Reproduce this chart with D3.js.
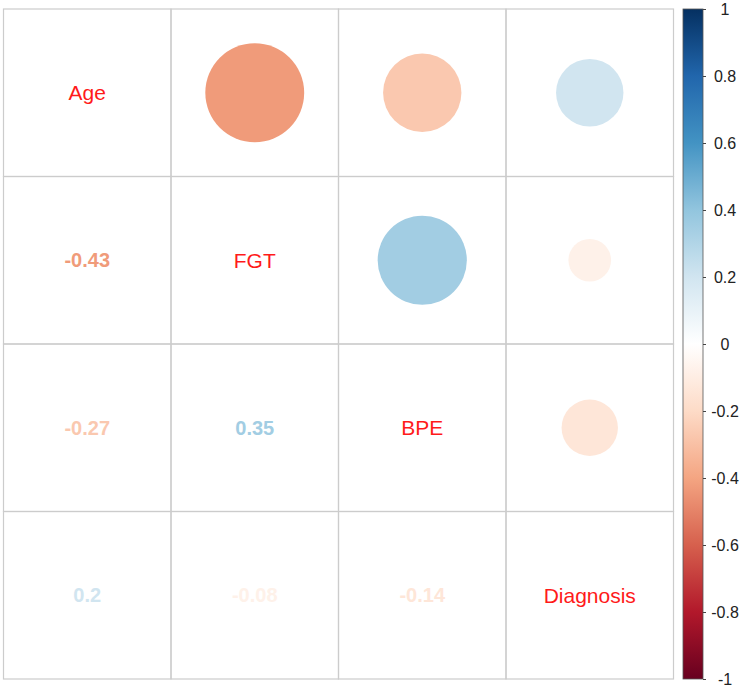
<!DOCTYPE html>
<html>
<head>
<meta charset="utf-8">
<script src="https://cdn.jsdelivr.net/npm/d3@7"></script>
<style>
  body { margin: 0; background: #fff; }
  svg { display: block; font-family: "Liberation Sans", Arial, sans-serif; }
</style>
</head>
<body>
<svg id="canvas"></svg>
<script>
// variables and their correlation matrix
let vars = ['Age', 'FGT', 'BPE', 'Diagnosis']
let corrAge = [1, -0.43, -0.27, 0.2]
let corrFGT = [-0.43, 1, 0.35, -0.08]
let corrBPE = [-0.27, 0.35, 1, -0.14]
let corrDiagnosis = [0.2, -0.08, -0.14, 1]
let corr = [corrAge, corrFGT, corrBPE, corrDiagnosis]

let legendTicks = [-1, -0.8, -0.6, -0.4, -0.2, 0, 0.2, 0.4, 0.6, 0.8, 1]
let paletteStops = ['#67001F', '#B2182B', '#D6604D', '#F4A582', '#FDDBC7', '#FFFFFF',
                    '#D1E5F0', '#92C5DE', '#4393C3', '#2166AC', '#053061']

let width = 745
let height = 689
let gridLeft = 3.5
let gridTop = 9
let gridSize = 670

let canvas = d3.select('#canvas')
canvas.attr('width', width).attr('height', height)

let xScale = d3.scaleBand().domain(vars).range([gridLeft, gridLeft + gridSize])
let yScale = d3.scaleBand().domain(vars).range([gridTop, gridTop + gridSize])
let color = d3.scaleLinear().domain(legendTicks).range(paletteStops)

// flatten matrix into cells
let cells = []
corr.forEach((row, i) => {
    row.forEach((v, j) => {
        cells.push({ row: vars[i], col: vars[j], i: i, j: j, value: v })
    })
})

let cellSize = xScale.bandwidth()

// grid
canvas.selectAll('rect.cell')
    .data(cells)
    .enter()
    .append('rect')
    .attr('class', 'cell')
    .attr('x', (d) => xScale(d.col))
    .attr('y', (d) => yScale(d.row))
    .attr('width', cellSize)
    .attr('height', cellSize)
    .attr('fill', 'none')
    .attr('stroke', '#cccccc')
    .attr('stroke-width', 1.2)

// upper triangle: circles, area ~ |r|
let rScale = d3.scaleSqrt().domain([0, 1]).range([0, cellSize / 2 * 0.9])

canvas.selectAll('circle.corr')
    .data(cells.filter((d) => d.j > d.i))
    .enter()
    .append('circle')
    .attr('class', 'corr')
    .attr('cx', (d) => xScale(d.col) + cellSize / 2)
    .attr('cy', (d) => yScale(d.row) + cellSize / 2)
    .attr('r', (d) => rScale(Math.abs(d.value)))
    .attr('fill', (d) => color(d.value))

// lower triangle: numbers
canvas.selectAll('text.num')
    .data(cells.filter((d) => d.j < d.i))
    .enter()
    .append('text')
    .attr('class', 'num')
    .attr('x', (d) => xScale(d.col) + cellSize / 2)
    .attr('y', (d) => yScale(d.row) + cellSize / 2)
    .attr('text-anchor', 'middle')
    .attr('dominant-baseline', 'central')
    .attr('font-size', 20)
    .attr('font-weight', 'bold')
    .attr('fill', (d) => color(d.value))
    .text((d) => String(d.value))

// diagonal: variable names
canvas.selectAll('text.lab')
    .data(cells.filter((d) => d.j === d.i))
    .enter()
    .append('text')
    .attr('class', 'lab')
    .attr('x', (d) => xScale(d.col) + cellSize / 2)
    .attr('y', (d) => yScale(d.row) + cellSize / 2)
    .attr('text-anchor', 'middle')
    .attr('dominant-baseline', 'central')
    .attr('font-size', 21)
    .attr('fill', '#ff1a1a')
    .text((d) => d.row)

// colour legend
let barX = 683
let barW = 20
let legendScale = d3.scaleLinear().domain([-1, 1]).range([gridTop + gridSize, gridTop])

let defs = canvas.append('defs')
let grad = defs.append('linearGradient')
    .attr('id', 'legendGrad')
    .attr('x1', 0).attr('y1', 1).attr('x2', 0).attr('y2', 0)
grad.selectAll('stop')
    .data(legendTicks)
    .enter()
    .append('stop')
    .attr('offset', (d) => (d + 1) / 2)
    .attr('stop-color', (d) => color(d))

canvas.append('rect')
    .attr('x', barX)
    .attr('y', legendScale(1))
    .attr('width', barW)
    .attr('height', legendScale(-1) - legendScale(1))
    .attr('fill', 'url(#legendGrad)')
    .attr('stroke', '#555')
    .attr('stroke-width', 0.8)

let legendAxis = d3.axisRight(legendScale)
    .tickValues(legendTicks)
    .tickSize(3)
    .tickFormat((d) => String(Math.round(d * 10) / 10))

let ax = canvas.append('g')
    .attr('transform', `translate(${barX + barW}, 0)`)
    .call(legendAxis)
ax.select('.domain').remove()
ax.selectAll('line').attr('stroke', '#444')
ax.selectAll('text')
    .attr('x', 22)
    .attr('text-anchor', 'middle')
    .attr('font-size', 16)
    .attr('font-family', '"Liberation Sans", Arial, sans-serif')
    .attr('fill', '#222')
</script>
</body>
</html>
